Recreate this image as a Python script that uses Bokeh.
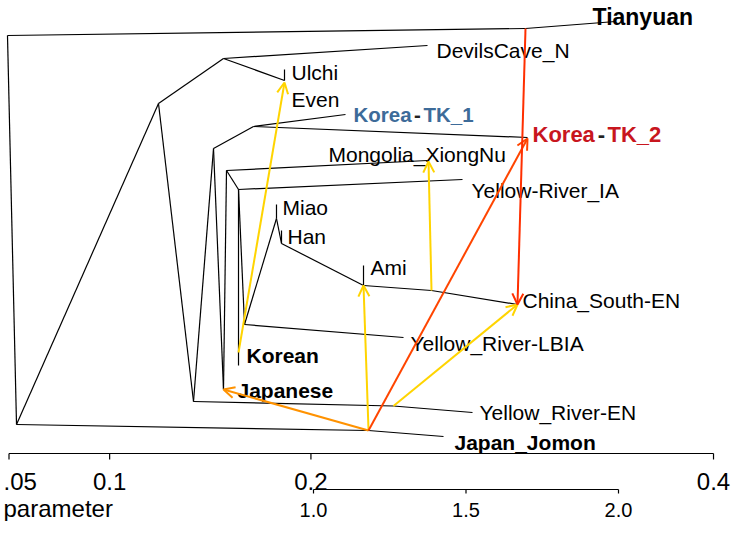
from bokeh.plotting import figure
from bokeh.models import Range1d, Arrow, OpenHead, ColumnDataSource
from bokeh.core.properties import value
from bokeh.embed import file_html
from bokeh.resources import INLINE

# ---------------- data ----------------
# tree nodes: drift (x) and vertical layout position (y)
node_names = ["top", "root", "tian_m", "Tianyuan", "jom_m", "Japan_Jomon", "A", "B",
              "DevilsCave_N", "Even", "Ulchi", "C", "yre_m", "Yellow_River-EN", "D", "K",
              "Korea-TK_1", "Korea-TK_2", "Japanese", "F", "Mongolia_XiongNu", "G",
              "Yellow-River_IA", "Korean", "H", "Yellow_River-LBIA", "M", "Miao", "N", "Han",
              "AM", "Ami", "cs_m", "China_South-EN"]
node_x = [0.04925, 0.05373, 0.30660, 0.35131, 0.22860, 0.26586, 0.12427, 0.15656,
          0.25791, 0.18687, 0.18687, 0.14166, 0.24102, 0.28027, 0.15160, 0.17147,
          0.21717, 0.30759, 0.15656, 0.15805, 0.25791, 0.16402,
          0.27530, 0.16402, 0.16700, 0.24599, 0.18289, 0.18289, 0.18538, 0.18538,
          0.22612, 0.22612, 0.25990, 0.30262]
node_y = [48.6, 9.7, 49.3, 50.0, 9.1, 8.5, 41.8, 46.3,
          47.6, 44.1, 45.2, 12.0, 11.55, 10.9, 37.3, 39.5,
          40.7, 38.4, 13.2, 35.1, 36.1, 33.2,
          34.2, 15.6, 19.7, 18.4, 30.3, 31.7, 27.8, 29.1,
          23.6, 25.6, 23.1, 21.7]

edge_parent = ["top", "top", "tian_m", "root", "jom_m", "root", "A", "B", "B", "Even",
               "A", "C", "yre_m", "C", "D", "K", "K", "D", "Japanese", "F", "F", "G",
               "G", "G", "H", "H", "M", "M", "N", "N", "AM", "AM", "cs_m"]
edge_child = ["root", "tian_m", "Tianyuan", "jom_m", "Japan_Jomon", "A", "B", "DevilsCave_N",
              "Even", "Ulchi", "C", "yre_m", "Yellow_River-EN", "D", "K", "Korea-TK_1",
              "Korea-TK_2", "Japanese", "F", "Mongolia_XiongNu", "G", "Yellow-River_IA",
              "Korean", "H", "Yellow_River-LBIA", "M", "Miao", "N", "Han", "AM", "Ami",
              "cs_m", "China_South-EN"]

# migration edges
mig_x0 = [0.16402, 0.25990, 0.22860, 0.24102, 0.22860, 0.22860, 0.30660]
mig_y0 = [16.9, 23.1, 9.2, 11.55, 9.1, 9.1, 49.3]
mig_x1 = [0.18687, 0.25841, 0.22612, 0.30262, 0.15656, 0.30759, 0.30262]
mig_y1 = [43.9, 36.0, 23.6, 21.7, 13.2, 38.3, 21.7]
mig_color = ["#FFD400", "#FFD400", "#FFD400", "#FFD400", "#FF9200", "#FF4500", "#FF2F00"]

drift_ticks = [0.05, 0.1, 0.2, 0.4]
drift_tick_labels = [".05", "0.1", "0.2", "0.4"]
weight_ticks = [1.0, 1.5, 2.0]
weight_tick_labels = ["1.0", "1.5", "2.0"]

# ---------------- layout helpers (page pixels -> data) ----------------
def PX(px):
    return 0.05 + (px - 8.5) / 2012.9

def PY(py):
    return (529 - py) / 10.0

def WX(px):
    return 1.0 + (px - 313) / 305.0

FONT = value("Liberation Sans")
W, H = 733, 521
TOP = 8  # page offset of the canvas top

p = figure(width=W, height=H, output_backend="svg", toolbar_location=None,
           x_range=Range1d(PX(0), PX(W)), y_range=Range1d(PY(TOP + H), PY(TOP)),
           x_axis_location=None, y_axis_location=None, min_border=0,
           outline_line_color=None, background_fill_color="white",
           border_fill_color="white")
p.extra_x_ranges = {"w": Range1d(WX(0), WX(W))}
p.xgrid.visible = False
p.ygrid.visible = False

# ---------------- tree ----------------
pos = {n: (x, y) for n, x, y in zip(node_names, node_x, node_y)}
p.segment(x0=[pos[a][0] for a in edge_parent], y0=[pos[a][1] for a in edge_parent],
          x1=[pos[b][0] for b in edge_child], y1=[pos[b][1] for b in edge_child],
          line_color="black", line_width=1.2)

# ---------------- migrations ----------------
for x0, y0, x1, y1, c in zip(mig_x0, mig_y0, mig_x1, mig_y1, mig_color):
    p.add_layout(Arrow(end=OpenHead(size=11, line_color=c, line_width=2),
                       x_start=x0, y_start=y0, x_end=x1, y_end=y1,
                       line_color=c, line_width=2))

# ---------------- labels ----------------
normal_labels = [("DevilsCave_N", 436, 58), ("Ulchi", 291, 80), ("Even", 291, 107),
                 ("Mongolia_XiongNu", 328, 162), ("Yellow-River_IA", 471, 198),
                 ("Miao", 282, 215), ("Han", 287, 244), ("Ami", 370, 275),
                 ("China_South-EN", 522, 308), ("Yellow_River-LBIA", 410, 351),
                 ("Yellow_River-EN", 479, 420)]
src = ColumnDataSource(dict(x=[PX(a) for _, a, _ in normal_labels],
                            y=[PY(b) for _, _, b in normal_labels],
                            t=[t for t, _, _ in normal_labels]))
p.text(x="x", y="y", text="t", source=src, text_font=FONT, text_font_size="21px",
       text_baseline="alphabetic", text_align="left", text_color="black")

bold_labels = [("Korean", 246, 363), ("Japanese", 237, 398), ("Japan_Jomon", 454, 450)]
srcb = ColumnDataSource(dict(x=[PX(a) for _, a, _ in bold_labels],
                             y=[PY(b) for _, _, b in bold_labels],
                             t=[t for t, _, _ in bold_labels]))
p.text(x="x", y="y", text="t", source=srcb, text_font=FONT, text_font_size="21px",
       text_font_style="bold", text_baseline="alphabetic", text_align="left",
       text_color="black")

p.text(x=[PX(592)], y=[PY(24)], text=["Tianyuan"], text_font=FONT, text_font_size="23px",
       text_font_style="bold", text_baseline="alphabetic", text_align="left",
       text_color="black")

# two-coloured labels: (Korea left, dash centre, suffix left, colour, baseline, size, suffix)
for (a, b, c, col, yb, fs, suffix) in [(353, 417, 423, "#3D6B99", 122, "20.5px", "TK_1"),
                                       (532, 601, 607, "#C8161E", 142, "22px", "TK_2")]:
    p.text(x=[PX(a)], y=[PY(yb)], text=["Korea"], text_font=FONT, text_font_size=fs,
           text_font_style="bold", text_baseline="alphabetic", text_align="left",
           text_color=col)
    p.text(x=[PX(b)], y=[PY(yb)], text=["-"], text_font=FONT, text_font_size=fs,
           text_font_style="bold", text_baseline="alphabetic", text_align="center",
           text_color="#222222")
    p.text(x=[PX(c)], y=[PY(yb)], text=[suffix], text_font=FONT, text_font_size=fs,
           text_font_style="bold", text_baseline="alphabetic", text_align="left",
           text_color=col)

# ---------------- drift axis ----------------
p.segment(x0=[drift_ticks[0]], y0=[PY(461)], x1=[drift_ticks[-1]], y1=[PY(461)],
          line_color="black", line_width=1.2)
p.segment(x0=drift_ticks, y0=[PY(461)] * 4, x1=drift_ticks, y1=[PY(467)] * 4,
          line_color="black", line_width=1.2)
p.text(x=[PX(3)], y=[PY(489)], text=[drift_tick_labels[0]], text_font=FONT,
       text_font_size="24px", text_baseline="alphabetic", text_align="left",
       text_color="black")
p.text(x=drift_ticks[1:], y=[PY(489)] * 3, text=drift_tick_labels[1:], text_font=FONT,
       text_font_size="24px", text_baseline="alphabetic", text_align="center",
       text_color="black")
p.text(x=[PX(3)], y=[PY(516)], text=["parameter"], text_font=FONT,
       text_font_size="24px", text_baseline="alphabetic", text_align="left",
       text_color="black")

# ---------------- weight scale ----------------
p.segment(x0=[weight_ticks[0]], y0=[PY(497)], x1=[weight_ticks[-1]], y1=[PY(497)],
          line_color="black", line_width=1.2, x_range_name="w")
p.segment(x0=weight_ticks, y0=[PY(497)] * 3, x1=weight_ticks, y1=[PY(501)] * 3,
          line_color="black", line_width=1.2, x_range_name="w")
p.text(x=weight_ticks, y=[PY(517)] * 3, text=weight_tick_labels, text_font=FONT,
       text_font_size="20px", text_baseline="alphabetic", text_align="center",
       text_color="black", x_range_name="w")

open("out.html", "w").write(file_html(p, INLINE))
